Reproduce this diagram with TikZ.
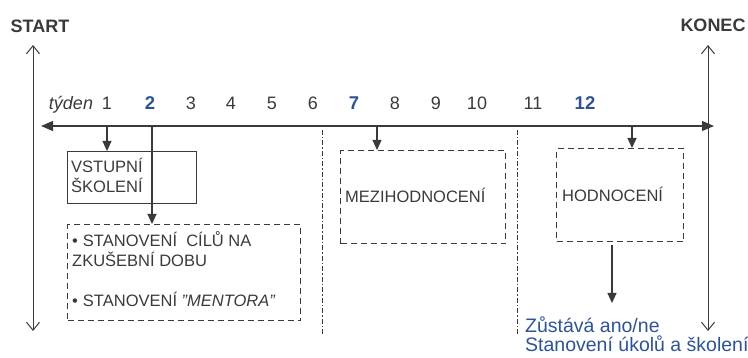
\documentclass[tikz,border=0pt]{standalone}
\usepackage{fontspec}
\setmainfont{Liberation Sans}
\usetikzlibrary{arrows.meta}
\definecolor{ink}{HTML}{3A3A3A}
\definecolor{wkblue}{HTML}{2E5394}

\tikzset{
  head/.style={font=\fontsize{18}{20}\selectfont\bfseries, text=ink, anchor=base, inner sep=0pt},
  wk/.style={font=\fontsize{18}{20}\selectfont, text=ink, anchor=base, inner sep=0pt},
  wkkey/.style={font=\fontsize{18.5}{20}\selectfont\bfseries, text=wkblue, anchor=base, inner sep=0pt},
  boxtxt/.style={font=\fontsize{16.5}{19}\selectfont, text=ink, anchor=base west, inner sep=0pt},
  outtxt/.style={font=\fontsize{19.5}{21}\selectfont, text=wkblue, anchor=base west, inner sep=0pt},
  solidbox/.style={draw=ink, line width=1.1pt, anchor=north west, inner sep=0pt},
  dashbox/.style={draw=ink, line width=1.1pt, dash pattern=on 6pt off 4pt, anchor=north west, inner sep=0pt},
  bound/.style={draw=ink, line width=1pt, {Straight Barb[length=8pt,width=13pt]}-{Straight Barb[length=8pt,width=13pt]}},
  axis/.style={draw=ink, line width=1.2pt, {Triangle[length=12pt,width=10pt]}-{Triangle[length=12pt,width=10pt]}},
  arr/.style={draw=ink, line width=1.1pt, -{Triangle[length=10pt,width=9pt]}},
  sep/.style={draw=ink, line width=1pt, dash pattern=on 5pt off 2pt on 1.5pt off 2pt}
}

\begin{document}
\begin{tikzpicture}[x=1pt,y=-1pt]
\useasboundingbox (0,0) rectangle (748,358);

% start and end of the probation period
\node[head] (start) at (40,33) {START};
\node[head] (konec) at (713,32) {KONEC};
\coordinate (sTop) at (33,45);
\coordinate (sBot) at (33,331);
\coordinate (kTop) at (708,45);
\coordinate (kBot) at (708,331);
\draw[bound] (sTop) -- (sBot);
\draw[bound] (kBot) -- (kTop);

% week axis
\coordinate (axL) at (41,126);
\coordinate (axR) at (714,126);
\draw[axis] (axL) -- (axR);

\node[wk, font=\fontsize{18}{20}\selectfont\itshape] (tyden) at (71,110) {týden};
\node[wk] (w1) at (107,110) {1};
\node[wkkey] (w2) at (150,110) {2};
\node[wk] (w3) at (191,110) {3};
\node[wk] (w4) at (231,110) {4};
\node[wk] (w5) at (272,110) {5};
\node[wk] (w6) at (313,110) {6};
\node[wkkey] (w7) at (354,110) {7};
\node[wk] (w8) at (395,110) {8};
\node[wk] (w9) at (436,110) {9};
\node[wk] (w10) at (477,110) {10};
\node[wk] (w11) at (533,110) {11};
\node[wkkey] (w12) at (585,110) {12};

% phase separators
\coordinate (s1T) at (322,130);
\coordinate (s1B) at (322,334);
\coordinate (s2T) at (517,130);
\coordinate (s2B) at (517,334);
\draw[sep] (s1T) -- (s1B);
\draw[sep] (s2T) -- (s2B);

% boxes
\node[solidbox, minimum width=129pt, minimum height=52pt] (vst) at (67,151) {};
\node[dashbox, minimum width=233pt, minimum height=96pt] (goals) at (67,224) {};
\node[dashbox, minimum width=165pt, minimum height=93pt] (mid) at (340,150) {};
\node[dashbox, minimum width=127pt, minimum height=93pt] (eval) at (556,148) {};

% box texts
\node[boxtxt] (vst1) at (71,173) {VSTUPNÍ};
\node[boxtxt] (vst2) at (71,193) {ŠKOLENÍ};
\node[boxtxt] (g1) at (72,247) {\textbullet\hspace{5pt}STANOVENÍ\ \ CÍLŮ NA};
\node[boxtxt] (g2) at (72,267) {ZKUŠEBNÍ DOBU};
\node[boxtxt] (g3) at (72,307) {\textbullet\hspace{5pt}STANOVENÍ \textit{\symbol{34}MENTORA\symbol{34}}};
\node[boxtxt] (midt) at (345,203) {MEZIHODNOCENÍ};
\node[boxtxt] (evalt) at (562,202) {HODNOCENÍ};

% outcome
\node[outtxt] (out1) at (525,333) {Zůstává ano/ne};
\node[outtxt] (out2) at (525,352) {Stanovení úkolů a školení};

% connectors from the axis
\coordinate (t1) at (107,126);
\coordinate (t2) at (152,126);
\coordinate (t3) at (377,126);
\coordinate (t4) at (632,126);
\draw[arr] (t1) -- (t1 |- vst.north);
\draw[arr] (t2) -- (t2 |- goals.north);
\draw[arr] (t3) -- (t3 |- mid.north);
\draw[arr] (t4) -- (t4 |- eval.north);
\coordinate (e5) at (612,245);
\coordinate (r5) at (612,303);
\draw[arr] (e5) -- (r5);
\end{tikzpicture}
\end{document}
